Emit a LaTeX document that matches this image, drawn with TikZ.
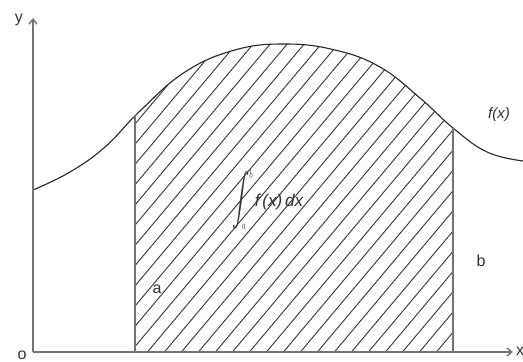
\documentclass[tikz,border=0pt]{standalone}
\usepackage{amsmath}
\usepackage{fontspec}
\setmainfont{Liberation Sans}
\usetikzlibrary{arrows.meta}

\begin{document}
\begin{tikzpicture}[
    x=1pt, y=1pt,
    >={Straight Barb[length=5pt,width=8pt]},
    axis/.style={->, line width=1.4pt, draw=black!55},
    bound/.style={line width=1.4pt, draw=black!55},
    fcurve/.style={line width=1.1pt, draw=black!85},
    hatch/.style={line width=0.9pt, draw=black!80},
    lbl/.style={font=\fontsize{16}{18}\selectfont, inner sep=0pt, text=black!80},
]
\useasboundingbox (0,0) rectangle (523,362);

% axes
\coordinate (o) at (33,10);
\coordinate (ytip) at (33,344);
\coordinate (xtip) at (513,10);
% limits of the area
\coordinate (aTop) at (135,247);
\coordinate (aBot) at (135,10);
\coordinate (bTop) at (453,234);
\coordinate (bBot) at (453,10);

\def\fpts{(33,172) (70,190) (105,215) (140,251) (185,290) (235,312) (285,318) (335,312) (380,295) (420,264) (453,234) (487,210) (523,201)}

% hatched area under f
\begin{scope}
    \clip (aBot) rectangle (453,362);
    \clip plot[smooth, tension=0.7] coordinates {\fpts} -- (523,0) -- (33,0) -- cycle;
    \foreach \c in {-150,-133,...,470}
        \draw[hatch] (\c,0) -- ++(300,357);
\end{scope}

\draw[fcurve] plot[smooth, tension=0.7] coordinates {\fpts};
\draw[bound] (aBot) -- (aTop);
\draw[bound] (bBot) -- (bTop);

\draw[axis] (o) -- (ytip);
\draw[axis] (o) -- (xtip);

\node[lbl, anchor=base] (ylab) at (19,339) {y};
\node[lbl] (olab) at (22,7) {o};
\node[lbl, anchor=west] (xlab) at (516,11) {x};
\node[lbl] (alab) at (157,73) {a};
\node[lbl] (blab) at (481,101) {b};
\node[lbl, font=\fontsize{15}{17}\selectfont\itshape] (flab) at (499,247) {f(x)};
\node[inner sep=0pt, text=black!80, anchor=west] (integ) at (232,162)
    {\scalebox{1}[1.5]{\fontsize{17}{20}\selectfont$\displaystyle\int_{\scalebox{0.45}{$a$}}^{\scalebox{0.45}{$b$}}$}\,{\fontsize{17}{20}\selectfont\itshape f\,(x)\,dx}};

\end{tikzpicture}
\end{document}
